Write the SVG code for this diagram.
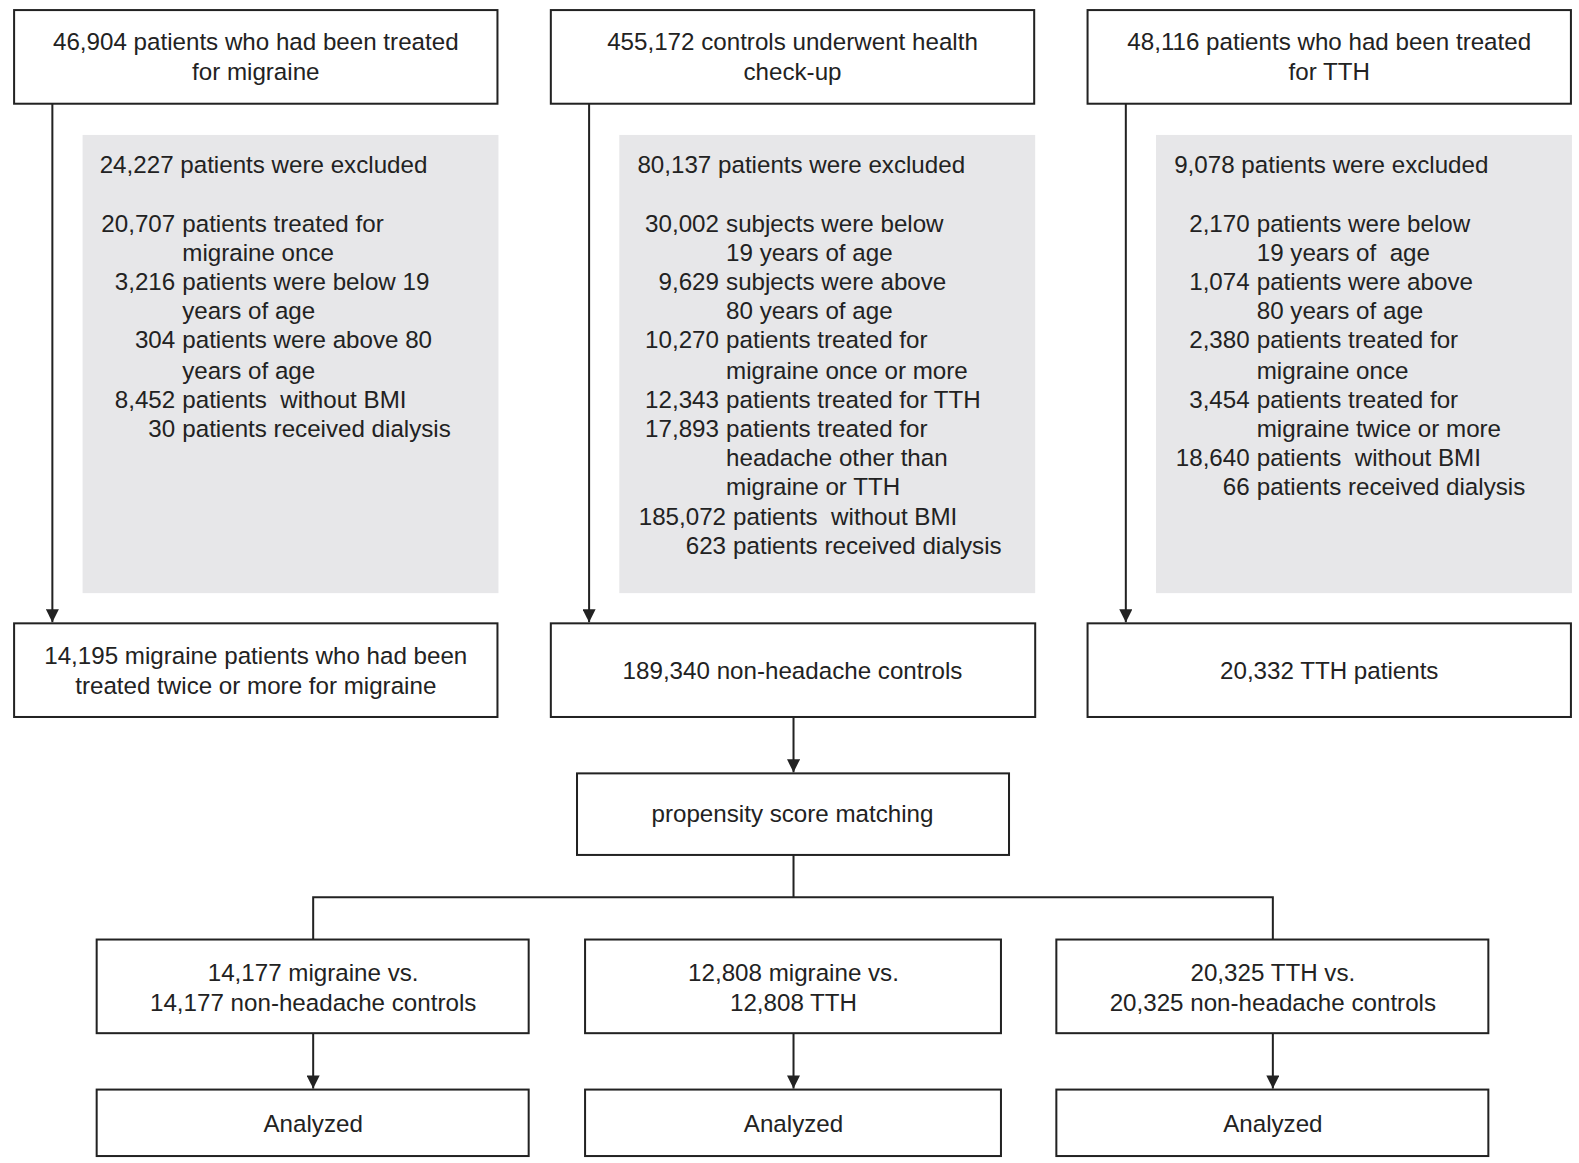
<svg xmlns="http://www.w3.org/2000/svg" width="1579" height="1163" viewBox="0 0 1579 1163">
<style>
.box{fill:#fff;stroke:#222;stroke-width:2}
.grey{fill:#e7e7e9;stroke:none}
text{font-family:"Liberation Sans",Arial,sans-serif;font-size:24px;fill:#222}
.c{text-anchor:middle}
.e{text-anchor:end}
.ln{stroke:#222;stroke-width:2;fill:none}
</style>
<defs>
<marker id="ah" viewBox="0 0 13 13" refX="13" refY="6.5" markerWidth="13" markerHeight="13" markerUnits="userSpaceOnUse" orient="auto">
<path d="M0,0 L13,6.5 L0,13 Z" fill="#222"/>
</marker>
</defs>
<rect width="1579" height="1163" fill="#fff"/>
<g id="diagram" transform="scale(1.007)">

<g id="connectors">
<line class="ln" x1="52" y1="103" x2="52" y2="618" marker-end="url(#ah)"/>
<line class="ln" x1="585" y1="103" x2="585" y2="618" marker-end="url(#ah)"/>
<line class="ln" x1="1118" y1="103" x2="1118" y2="618" marker-end="url(#ah)"/>
<line class="ln" x1="788" y1="712" x2="788" y2="767" marker-end="url(#ah)"/>
<polyline class="ln" points="788,849 788,891"/>
<polyline class="ln" points="311,933 311,891 1264,891 1264,933"/>
<line class="ln" x1="311" y1="1026" x2="311" y2="1081" marker-end="url(#ah)"/>
<line class="ln" x1="788" y1="1026" x2="788" y2="1081" marker-end="url(#ah)"/>
<line class="ln" x1="1264" y1="1026" x2="1264" y2="1081" marker-end="url(#ah)"/>
</g>

<g id="top-migraine">
<rect class="box" x="14" y="10" width="480" height="93"/>
<text class="c" x="254" y="50">46,904 patients who had been treated</text>
<text class="c" x="254" y="79">for migraine</text>
</g>
<g id="top-controls">
<rect class="box" x="547" y="10" width="480" height="93"/>
<text class="c" x="787" y="50">455,172 controls underwent health</text>
<text class="c" x="787" y="79">check-up</text>
</g>
<g id="top-tth">
<rect class="box" x="1080" y="10" width="480" height="93"/>
<text class="c" x="1320" y="50">48,116 patients who had been treated</text>
<text class="c" x="1320" y="79">for TTH</text>
</g>

<g id="excl-migraine">
<rect class="grey" x="82" y="134" width="413" height="455"/>
<text x="99" y="172">24,227 patients were excluded</text>
<text class="e" x="174" y="230">20,707</text><text x="181" y="230">patients treated for</text>
<text x="181" y="259">migraine once</text>
<text class="e" x="174" y="288">3,216</text><text x="181" y="288">patients were below 19</text>
<text x="181" y="317">years of age</text>
<text class="e" x="174" y="346">304</text><text x="181" y="346">patients were above 80</text>
<text x="181" y="376">years of age</text>
<text class="e" x="174" y="405">8,452</text><text x="181" y="405" xml:space="preserve">patients  without BMI</text>
<text class="e" x="174" y="434">30</text><text x="181" y="434">patients received dialysis</text>
</g>

<g id="excl-controls">
<rect class="grey" x="615" y="134" width="413" height="455"/>
<text x="633" y="172">80,137 patients were excluded</text>
<text class="e" x="714" y="230">30,002</text><text x="721" y="230">subjects were below</text>
<text x="721" y="259">19 years of age</text>
<text class="e" x="714" y="288">9,629</text><text x="721" y="288">subjects were above</text>
<text x="721" y="317">80 years of age</text>
<text class="e" x="714" y="346">10,270</text><text x="721" y="346">patients treated for</text>
<text x="721" y="376">migraine once or more</text>
<text class="e" x="714" y="405">12,343</text><text x="721" y="405">patients treated for TTH</text>
<text class="e" x="714" y="434">17,893</text><text x="721" y="434">patients treated for</text>
<text x="721" y="463">headache other than</text>
<text x="721" y="492">migraine or TTH</text>
<text class="e" x="721" y="521">185,072</text><text x="728" y="521" xml:space="preserve">patients  without BMI</text>
<text class="e" x="721" y="550">623</text><text x="728" y="550">patients received dialysis</text>
</g>

<g id="excl-tth">
<rect class="grey" x="1148" y="134" width="413" height="455"/>
<text x="1166" y="172">9,078 patients were excluded</text>
<text class="e" x="1241" y="230">2,170</text><text x="1248" y="230">patients were below</text>
<text x="1248" y="259" xml:space="preserve">19 years of  age</text>
<text class="e" x="1241" y="288">1,074</text><text x="1248" y="288">patients were above</text>
<text x="1248" y="317">80 years of age</text>
<text class="e" x="1241" y="346">2,380</text><text x="1248" y="346">patients treated for</text>
<text x="1248" y="376">migraine once</text>
<text class="e" x="1241" y="405">3,454</text><text x="1248" y="405">patients treated for</text>
<text x="1248" y="434">migraine twice or more</text>
<text class="e" x="1241" y="463">18,640</text><text x="1248" y="463" xml:space="preserve">patients  without BMI</text>
<text class="e" x="1241" y="492">66</text><text x="1248" y="492">patients received dialysis</text>
</g>

<g id="mid-migraine">
<rect class="box" x="14" y="619" width="480" height="93"/>
<text class="c" x="254" y="659">14,195 migraine patients who had been</text>
<text class="c" x="254" y="689">treated twice or more for migraine</text>
</g>
<g id="mid-controls">
<rect class="box" x="547" y="619" width="481" height="93"/>
<text class="c" x="787" y="674">189,340 non-headache controls</text>
</g>
<g id="mid-tth">
<rect class="box" x="1080" y="619" width="480" height="93"/>
<text class="c" x="1320" y="674">20,332 TTH patients</text>
</g>

<g id="psm">
<rect class="box" x="573" y="768" width="429" height="81"/>
<text class="c" x="787" y="816">propensity score matching</text>
</g>

<g id="cmp-migraine-controls">
<rect class="box" x="96" y="933" width="429" height="93"/>
<text class="c" x="311" y="974">14,177 migraine vs.</text>
<text class="c" x="311" y="1004">14,177 non-headache controls</text>
</g>
<g id="cmp-migraine-tth">
<rect class="box" x="581" y="933" width="413" height="93"/>
<text class="c" x="788" y="974">12,808 migraine vs.</text>
<text class="c" x="788" y="1004">12,808 TTH</text>
</g>
<g id="cmp-tth-controls">
<rect class="box" x="1049" y="933" width="429" height="93"/>
<text class="c" x="1264" y="974">20,325 TTH vs.</text>
<text class="c" x="1264" y="1004">20,325 non-headache controls</text>
</g>

<g id="analyzed-1">
<rect class="box" x="96" y="1082" width="429" height="66"/>
<text class="c" x="311" y="1124">Analyzed</text>
</g>
<g id="analyzed-2">
<rect class="box" x="581" y="1082" width="413" height="66"/>
<text class="c" x="788" y="1124">Analyzed</text>
</g>
<g id="analyzed-3">
<rect class="box" x="1049" y="1082" width="429" height="66"/>
<text class="c" x="1264" y="1124">Analyzed</text>
</g>
</g>
</svg>
